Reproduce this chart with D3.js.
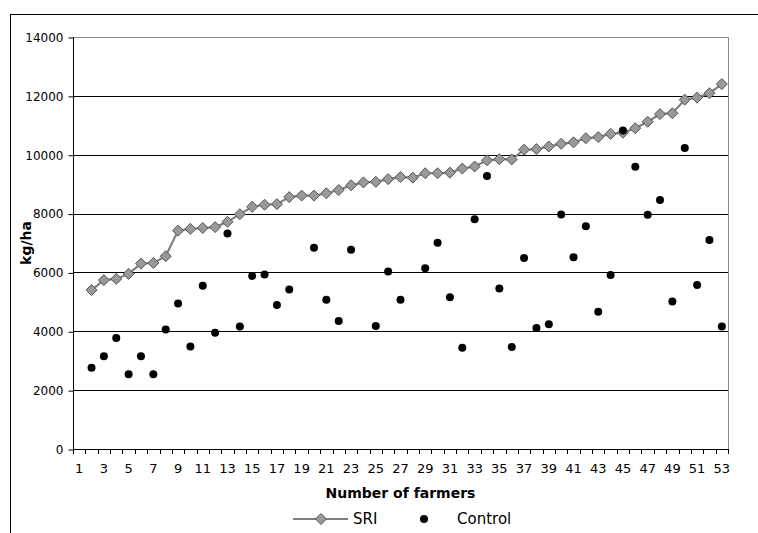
<!DOCTYPE html>
<html><head><meta charset="utf-8">
<script src="https://cdn.jsdelivr.net/npm/d3@7"></script>
<style>html,body{margin:0;padding:0;background:#fff}svg{display:block}</style>
</head><body>
<svg id="chart" width="758" height="533"></svg>
<script>
const categories = [1,2,3,4,5,6,7,8,9,10,11,12,13,14,15,16,17,18,19,20,21,22,23,24,25,26,27,28,29,30,31,32,33,34,35,36,37,38,39,40,41,42,43,44,45,46,47,48,49,50,51,52,53];
const xTickLabels = [1,3,5,7,9,11,13,15,17,19,21,23,25,27,29,31,33,35,37,39,41,43,45,47,49,51,53];
const yTicks = [0,2000,4000,6000,8000,10000,12000,14000];
const farmers = [2,3,4,5,6,7,8,9,10,11,12,13,14,15,16,17,18,19,20,21,22,23,24,25,26,27,28,29,30,31,32,33,34,35,36,37,38,39,40,41,42,43,44,45,46,47,48,49,50,51,52,53];
const sri = [5400,5740,5780,5950,6300,6320,6550,7420,7480,7510,7540,7720,7980,8230,8300,8320,8560,8610,8610,8690,8800,8960,9060,9080,9170,9240,9220,9370,9370,9390,9530,9600,9810,9850,9840,10170,10190,10280,10370,10420,10560,10600,10710,10750,10900,11120,11380,11410,11870,11940,12090,12400];
const control = [2760,3150,3770,2540,3150,2540,4060,4940,3480,5550,3950,7320,4160,5880,5930,4890,5420,null,6840,5070,4350,6770,null,4180,6030,5070,null,6140,7010,5160,3440,7810,9280,5450,3470,6490,4110,4240,7970,6520,7570,4660,5910,10820,9590,7960,8460,5010,10230,5570,7100,4160];
const seriesNames = ["SRI","Control"];
const yTitle = "kg/ha";
const xTitle = "Number of farmers";

const svg = d3.select("#chart");
const font = "Verdana, 'DejaVu Sans', sans-serif";
const L = 73, R = 728, T = 37, B = 449;

const x = d3.scaleBand().domain(categories).range([L, R]).padding(0);
const y = d3.scaleLinear().domain([0, 14000]).range([B, T]);
const cx = c => x(c) + x.bandwidth() / 2;

// outer chart border
svg.append("rect").attr("x", 10.5).attr("y", 14.5).attr("width", 800).attr("height", 600)
  .attr("fill", "none").attr("stroke", "#000").attr("stroke-width", 1);

// gridlines
svg.append("g").selectAll("line").data(yTicks.filter(v => v > 0 && v < 14000)).join("line")
  .attr("x1", L).attr("x2", R).attr("y1", d => Math.round(y(d)) + 0.5).attr("y2", d => Math.round(y(d)) + 0.5)
  .attr("stroke", "#000").attr("stroke-width", 1);

// plot area border top/right
svg.append("path").attr("d", `M${L},${T + 0.5}H${R + 0.5}V${B}`).attr("fill", "none")
  .attr("stroke", "#888").attr("stroke-width", 1);

// y axis
const yAxis = d3.axisLeft(y).tickValues(yTicks).tickSize(5).tickPadding(5).tickFormat(d3.format("d"));
const gy = svg.append("g").attr("transform", `translate(${L + 0.5},0.5)`).call(yAxis);
gy.select(".domain").attr("d", `M0,${T}V${B}`).attr("stroke", "#000");
gy.selectAll("text").attr("font-family", font).attr("font-size", 12).attr("fill", "#000");

// x axis
const xAxis = d3.axisBottom(x).tickValues(xTickLabels).tickSize(0).tickPadding(14);
const gx = svg.append("g").attr("transform", `translate(0,${B + 0.5})`).call(xAxis);
gx.select(".domain").attr("d", `M${L},0H${R + 0.5}`).attr("stroke", "#000");
gx.selectAll("text").attr("font-family", font).attr("font-size", 13).attr("fill", "#000");
// boundary ticks
svg.append("g").selectAll("line").data(categories.map(c => x(c)).concat([R])).join("line")
  .attr("x1", d => Math.round(d) + 0.5).attr("x2", d => Math.round(d) + 0.5)
  .attr("y1", B).attr("y2", B + 5).attr("stroke", "#000");

// SRI line + markers
const line = d3.line().x((d, i) => cx(farmers[i])).y(d => y(d));
svg.append("path").datum(sri).attr("d", line).attr("fill", "none")
  .attr("stroke", "#808080").attr("stroke-width", 2.2);
const diamond = (px, py, s) => `M${px},${py - s}L${px + s},${py}L${px},${py + s}L${px - s},${py}Z`;
svg.append("g").selectAll("path").data(sri).join("path")
  .attr("d", (d, i) => diamond(cx(farmers[i]), y(d), 5.5))
  .attr("fill", "#999999").attr("stroke", "#555555").attr("stroke-width", 1);

// Control points
svg.append("g").selectAll("circle")
  .data(control.map((v, i) => ({f: farmers[i], v})).filter(d => d.v != null)).join("circle")
  .attr("cx", d => cx(d.f)).attr("cy", d => y(d.v)).attr("r", 4).attr("fill", "#000");

// axis titles
svg.append("text").attr("x", (L + R) / 2).attr("y", 498).attr("text-anchor", "middle")
  .attr("font-family", font).attr("font-weight", "bold").attr("font-size", 14).text(xTitle);
svg.append("text").attr("transform", `translate(31,${(T + B) / 2}) rotate(-90)`).attr("text-anchor", "middle")
  .attr("font-family", font).attr("font-weight", "bold").attr("font-size", 14).text(yTitle);

// legend
const ly = 519;
svg.append("line").attr("x1", 293).attr("x2", 348).attr("y1", ly).attr("y2", ly)
  .attr("stroke", "#808080").attr("stroke-width", 2.2);
svg.append("path").attr("d", diamond(321, ly, 5.5)).attr("fill", "#999999").attr("stroke", "#555555");
svg.append("text").attr("x", 353).attr("y", ly + 5).attr("font-family", font).attr("font-size", 15).text(seriesNames[0]);
svg.append("circle").attr("cx", 424).attr("cy", ly).attr("r", 4).attr("fill", "#000");
svg.append("text").attr("x", 457).attr("y", ly + 5).attr("font-family", font).attr("font-size", 15).text(seriesNames[1]);
</script>
</body></html>
